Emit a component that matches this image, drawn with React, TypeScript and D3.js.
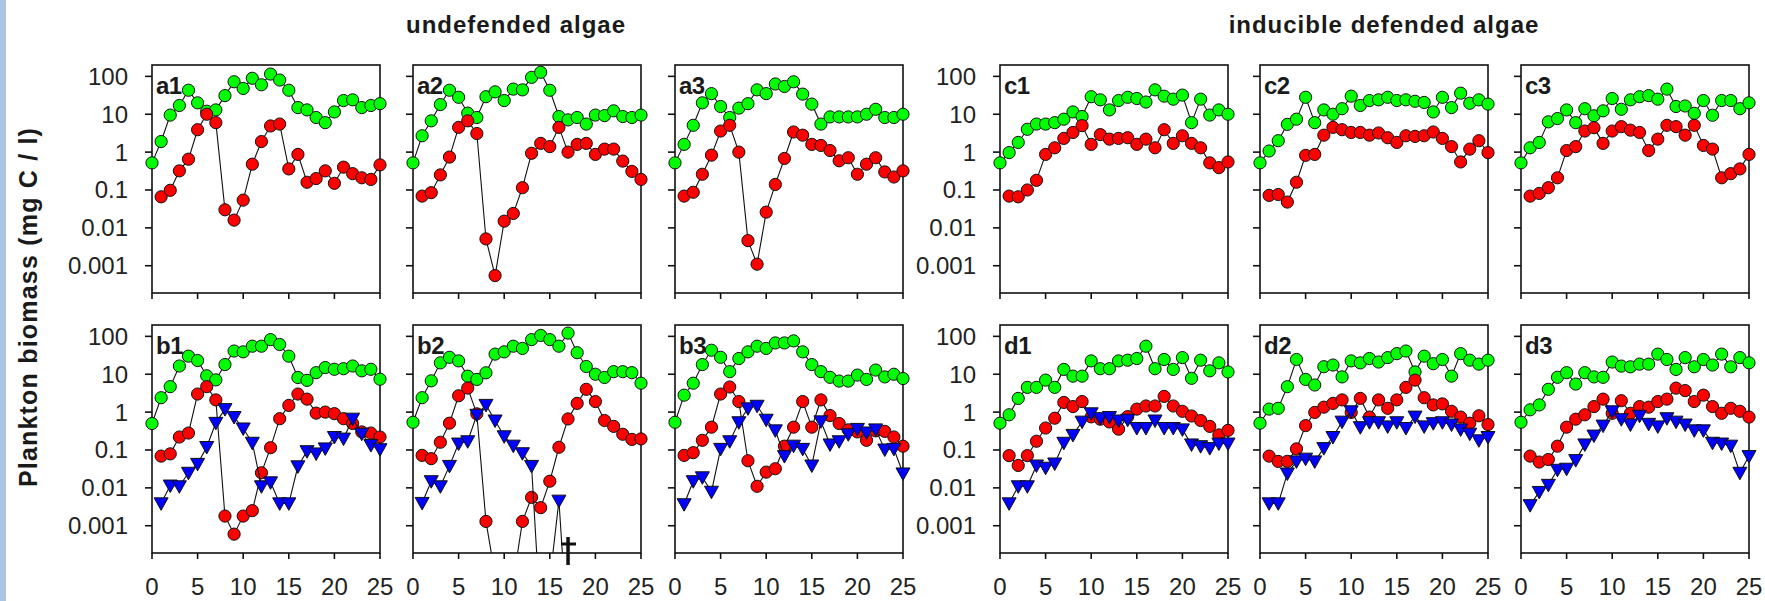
import React from "react";
import * as d3 from "d3";

// ---------- data ----------
const DAYS = [0, 1, 2, 3, 4, 5, 6, 7, 8, 9, 10, 11, 12, 13, 14, 15, 16, 17, 18, 19, 20, 21, 22, 23, 24, 25];
const Y_TICKS = [100, 10, 1, 0.1, 0.01, 0.001];
const Y_TICK_LABELS = ["100", "10", "1", "0.1", "0.01", "0.001"];
const X_TICKS = [0, 5, 10, 15, 20, 25];
const TITLES = ["undefended algae", "inducible defended algae"];
const Y_LABEL = "Plankton biomass (mg C / l)";

type V = number | null;

// a: undefended algae, no predator
const a1Green: V[] = [0.52, 1.9, 9.5, 17, 43, 20, 12, 13, 31, 72, 48, 89, 60, 115, 80, 43, 15, 13, 8.2, 6.0, 11.5, 23, 24, 15, 17, 19];
const a1Red: V[] = [null, 0.066, 0.098, 0.32, 0.65, 3.9, 10, 6.0, 0.03, 0.016, 0.054, 0.48, 1.9, 4.9, 5.5, 0.36, 0.87, 0.16, 0.2, 0.32, 0.15, 0.4, 0.27, 0.21, 0.19, 0.46];
const a2Green: V[] = [0.52, 2.7, 6.7, 18, 43, 28, 10.7, 8.2, 29, 39, 23, 46, 44, 94, 128, 43, 8.7, 7.1, 8.2, 5.5, 9.5, 9.2, 12.3, 8.7, 8.2, 9.5];
const a2Red: V[] = [null, 0.069, 0.085, 0.25, 0.74, 4.5, 6.7, 3.1, 0.0051, 0.00055, 0.015, 0.024, 0.115, 0.93, 1.7, 1.4, 4.5, 1.0, 1.6, 1.7, 0.87, 1.2, 1.2, 0.58, 0.31, 0.19];
const a3Green: V[] = [0.52, 1.6, 5.1, 20, 35, 16, 8.2, 14.5, 19, 44, 35, 63, 54, 72, 34, 18.5, 5.5, 8.5, 8.5, 8.5, 8.5, 10, 13.5, 8.2, 8.2, 10];
const a3Red: V[] = [null, 0.069, 0.087, 0.26, 0.83, 3.6, 5.1, 1.0, 0.0046, 0.0011, 0.026, 0.14, 0.68, 3.4, 2.8, 1.6, 1.5, 1.1, 0.59, 0.71, 0.26, 0.48, 0.71, 0.3, 0.22, 0.32];

// b: undefended algae with predator
const b1Green: V[] = [0.5, 2.4, 4.7, 16.5, 30, 23, 9.1, 7.1, 18, 41, 39, 55, 55, 82, 61, 30, 8.2, 6.9, 11, 15, 13.5, 14, 16.5, 12.3, 13.5, 7.4];
const b1Red: V[] = [null, 0.069, 0.079, 0.22, 0.28, 3.0, 4.7, 2.1, 0.0018, 0.0006, 0.0018, 0.0025, 0.025, 0.115, 0.67, 1.5, 3.0, 2.2, 0.94, 1.0, 0.91, 0.67, 0.5, 0.3, 0.28, 0.22];
const b1Blue: V[] = [null, 0.0039, 0.0115, 0.011, 0.025, 0.043, 0.12, 0.52, 1.2, 0.74, 0.37, 0.155, 0.011, 0.014, 0.0039, 0.0039, 0.037, 0.093, 0.081, 0.11, 0.22, 0.2, 0.67, 0.27, 0.135, 0.105];
const b2Green: V[] = [0.54, 2.4, 6.7, 20, 28, 22.5, 8.9, 7.3, 10.9, 34, 39, 55, 48, 82, 106, 82, 55, 122, 37, 16, 10, 8.2, 11.7, 11.7, 11, 5.8];
const b2Red: V[] = [null, 0.072, 0.059, 0.16, 0.51, 2.7, 4.3, 0.9, 0.0013, 0.00005, 0.00001, 0.000035, 0.0013, 0.0056, 0.003, 0.015, 0.118, 0.66, 1.7, 4.0, 1.9, 0.6, 0.42, 0.26, 0.19, 0.196];
const b2Blue: V[] = [null, 0.004, 0.015, 0.011, 0.038, 0.148, 0.17, 0.85, 1.55, 0.6, 0.23, 0.13, 0.082, 0.038, 0.000003, 0.000036, 0.0046, 0.000001, null, null, null, null, null, null, null, null];
const b3Green: V[] = [0.54, 2.8, 5.8, 18, 43, 28, 11.7, 26, 39, 55, 48, 67, 67, 76, 39, 18, 11.7, 8.3, 6.6, 6.6, 9.5, 7.3, 12.9, 8.5, 10, 7.7];
const b3Red: V[] = [null, 0.072, 0.085, 0.18, 0.4, 3.0, 4.6, 1.9, 0.052, 0.011, 0.026, 0.032, 0.126, 0.4, 1.9, 0.4, 2.1, 0.81, 0.5, 0.34, 0.3, 0.18, 0.32, 0.31, 0.22, 0.126];
const b3Blue: V[] = [null, 0.0037, 0.015, 0.019, 0.0079, 0.107, 0.17, 0.54, 1.26, 1.47, 0.63, 0.33, 0.069, 0.13, 0.107, 0.039, 0.57, 0.14, 0.17, 0.26, 0.36, 0.29, 0.35, 0.103, 0.107, 0.024];

// c: inducible defended algae, no predator
const c1Green: V[] = [0.52, 0.97, 1.8, 4.0, 5.5, 5.5, 6.0, 7.4, 11.5, 8.7, 29, 24, 13, 23, 28, 26, 21, 44, 30, 25, 32, 6.0, 25, 9.5, 13, 10];
const c1Red: V[] = [null, 0.069, 0.066, 0.1, 0.18, 0.87, 1.3, 2.3, 3.3, 5.0, 1.6, 2.9, 2.2, 2.3, 2.4, 1.6, 2.2, 1.3, 3.9, 1.7, 2.7, 1.7, 1.3, 0.52, 0.39, 0.55];
const c2Green: V[] = [0.52, 1.07, 2.0, 5.4, 7.4, 28, 6.0, 13, 10, 14, 30, 17, 23, 24, 28, 23, 24, 22, 20.5, 11.5, 28, 15, 36, 19.5, 24, 18.5];
const c2Red: V[] = [null, 0.072, 0.076, 0.048, 0.16, 0.82, 0.87, 2.8, 4.5, 3.9, 3.3, 3.3, 2.8, 3.2, 2.4, 1.8, 2.7, 2.6, 2.7, 3.4, 2.3, 1.4, 0.55, 1.2, 2.0, 0.97];
const c3Green: V[] = [0.52, 1.3, 1.8, 6.3, 7.7, 13, 6.0, 14, 9.1, 12.3, 26, 13.5, 24, 29, 31, 25, 46, 16, 16.5, 10.6, 23, 9.4, 23, 23, 14, 20];
const c3Red: V[] = [null, 0.069, 0.081, 0.115, 0.21, 1.1, 1.4, 3.6, 4.4, 1.7, 3.6, 4.7, 3.8, 3.3, 1.1, 2.2, 5.1, 4.7, 2.8, 5.1, 1.5, 1.2, 0.21, 0.27, 0.36, 0.87];

// d: inducible defended algae with predator
const d1Green: V[] = [0.51, 0.85, 2.3, 4.5, 4.5, 7.0, 4.5, 13.4, 8.9, 8.9, 22.5, 14, 14, 22.5, 23.5, 26, 55, 14, 24.5, 13.4, 27.5, 7.8, 23.5, 12.3, 20, 11.5];
const d1Red: V[] = [null, 0.071, 0.039, 0.071, 0.17, 0.38, 0.69, 1.8, 1.4, 1.9, 0.75, 0.65, 0.55, 0.355, 0.76, 1.2, 1.45, 1.45, 2.6, 1.45, 1.05, 0.79, 0.6, 0.42, 0.25, 0.33];
const d1Blue: V[] = [null, 0.0039, 0.011, 0.011, 0.039, 0.034, 0.044, 0.155, 0.25, 0.56, 0.93, 0.69, 0.74, 0.6, 0.63, 0.38, 0.38, 0.6, 0.38, 0.38, 0.35, 0.14, 0.126, 0.112, 0.148, 0.148];
const d2Green: V[] = [0.51, 1.2, 1.26, 4.7, 24.5, 7.3, 5.2, 15.8, 17.5, 8.5, 22.5, 20, 26, 21, 27.5, 35, 41, 11.5, 30, 19, 24.5, 8.9, 35, 23.5, 18.5, 23.5];
const d2Red: V[] = [null, 0.069, 0.05, 0.05, 0.107, 0.44, 0.98, 1.35, 1.7, 2.1, 0.98, 2.3, 0.74, 2.1, 1.26, 2.1, 4.5, 7.0, 2.4, 1.55, 1.65, 1.05, 0.74, 0.51, 0.8, 0.47];
const d2Blue: V[] = [null, 0.0039, 0.0039, 0.024, 0.05, 0.059, 0.05, 0.112, 0.22, 0.56, 1.05, 0.4, 0.54, 0.54, 0.42, 0.54, 0.38, 0.76, 0.42, 0.51, 0.54, 0.47, 0.35, 0.27, 0.18, 0.22];
const d3Green: V[] = [0.54, 1.15, 1.55, 4.0, 8.3, 11, 5.5, 11, 8.5, 8.3, 21, 16.4, 15.7, 18.5, 18.5, 34, 24.5, 13.4, 27.5, 15.7, 24.5, 17.5, 34, 15.7, 27.5, 20];
const d3Red: V[] = [null, 0.069, 0.048, 0.056, 0.126, 0.4, 0.65, 0.85, 1.4, 2.2, 0.93, 2.0, 0.93, 1.4, 1.35, 1.9, 2.2, 4.3, 3.7, 1.9, 2.8, 1.4, 0.93, 1.26, 1.05, 0.74];
const d3Blue: V[] = [null, 0.0035, 0.0078, 0.012, 0.03, 0.032, 0.054, 0.14, 0.24, 0.44, 1.05, 0.65, 0.47, 0.8, 0.49, 0.42, 0.69, 0.56, 0.47, 0.33, 0.33, 0.155, 0.148, 0.13, 0.025, 0.069];

const EXTINCTION_DAY = 17; // dagger in panel b2

// ---------- layout ----------
const W = 1765;
const H = 601;
const PANEL_W = 228;
const PANEL_H = 228;
const COL_LEFT = [152, 413, 675, 1000, 1260, 1521];
const ROW_TOP = [65, 325];
const FONT = "'Liberation Sans', Arial, Helvetica, sans-serif";
const GREEN = "#00ff00";
const RED = "#ff0000";
const BLUE = "#0000ff";

type Series = { values: V[]; color: string; shape: "circle" | "tri" };
type PanelDef = { label: string; col: number; row: number; series: Series[] };

const g = (v: V[]): Series => ({ values: v, color: GREEN, shape: "circle" });
const r = (v: V[]): Series => ({ values: v, color: RED, shape: "circle" });
const b = (v: V[]): Series => ({ values: v, color: BLUE, shape: "tri" });

const PANELS: PanelDef[] = [
  { label: "a1", col: 0, row: 0, series: [g(a1Green), r(a1Red)] },
  { label: "a2", col: 1, row: 0, series: [g(a2Green), r(a2Red)] },
  { label: "a3", col: 2, row: 0, series: [g(a3Green), r(a3Red)] },
  { label: "c1", col: 3, row: 0, series: [g(c1Green), r(c1Red)] },
  { label: "c2", col: 4, row: 0, series: [g(c2Green), r(c2Red)] },
  { label: "c3", col: 5, row: 0, series: [g(c3Green), r(c3Red)] },
  { label: "b1", col: 0, row: 1, series: [g(b1Green), r(b1Red), b(b1Blue)] },
  { label: "b2", col: 1, row: 1, series: [g(b2Green), r(b2Red), b(b2Blue)] },
  { label: "b3", col: 2, row: 1, series: [g(b3Green), r(b3Red), b(b3Blue)] },
  { label: "d1", col: 3, row: 1, series: [g(d1Green), r(d1Red), b(d1Blue)] },
  { label: "d2", col: 4, row: 1, series: [g(d2Green), r(d2Red), b(d2Blue)] },
  { label: "d3", col: 5, row: 1, series: [g(d3Green), r(d3Red), b(d3Blue)] },
];

function Panel({ p }: { p: PanelDef }) {
  const left = COL_LEFT[p.col];
  const top = ROW_TOP[p.row];
  const x = d3.scaleLinear().domain([0, 25]).range([left, left + PANEL_W]);
  const y = d3.scaleLog().domain([Math.pow(10, -3.72), Math.pow(10, 2.3)]).range([top + PANEL_H, top]);
  const showY = p.col === 0 || p.col === 3;
  const showX = p.row === 1;
  const clipId = `clip-${p.label}`;
  const line = d3
    .line<[number, V]>()
    .defined((d) => d[1] != null)
    .x((d) => x(d[0]))
    .y((d) => y(d[1] as number));

  return (
    <g>
      <defs>
        <clipPath id={clipId}>
          <rect x={left - 12} y={top - 12} width={PANEL_W + 24} height={PANEL_H + 12} />
        </clipPath>
      </defs>
      <rect x={left} y={top} width={PANEL_W} height={PANEL_H} fill="none" stroke="#111" strokeWidth={1.6} />
      {Y_TICKS.map((t, i) => (
        <g key={`yt${i}`}>
          <line x1={left - 7} x2={left} y1={y(t)} y2={y(t)} stroke="#111" strokeWidth={1.6} />
          {showY && (
            <text x={left - 24} y={y(t)} textAnchor="end" dominantBaseline="central" fontFamily={FONT} fontSize={24} fill="#222">
              {Y_TICK_LABELS[i]}
            </text>
          )}
        </g>
      ))}
      {X_TICKS.map((t) => (
        <g key={`xt${t}`}>
          <line x1={x(t)} x2={x(t)} y1={top + PANEL_H} y2={top + PANEL_H + 6} stroke="#111" strokeWidth={1.6} />
          {showX && (
            <text x={x(t)} y={top + PANEL_H + 33} textAnchor="middle" dominantBaseline="central" fontFamily={FONT} fontSize={24} fill="#222">
              {t}
            </text>
          )}
        </g>
      ))}
      <g clipPath={`url(#${clipId})`}>
        {p.series.map((s, si) => {
          const pts: [number, V][] = DAYS.map((d, i) => [d, s.values[i]]);
          return (
            <g key={`s${si}`}>
              <path d={line(pts) || ""} fill="none" stroke="#111" strokeWidth={1.1} />
              {pts
                .filter((d) => d[1] != null)
                .map((d, i) => {
                  const cx = x(d[0]);
                  const cy = y(d[1] as number);
                  if (s.shape === "circle") {
                    return <circle key={i} cx={cx} cy={cy} r={6.1} fill={s.color} stroke="#111" strokeWidth={1} />;
                  }
                  const pth = `M${cx - 7},${cy - 5.5}L${cx + 7},${cy - 5.5}L${cx},${cy + 7}Z`;
                  return <path key={i} d={pth} fill={s.color} stroke="#111" strokeWidth={1} />;
                })}
            </g>
          );
        })}
      </g>
      <text x={left + 4} y={top + 29} fontFamily={FONT} fontSize={24} fontWeight="bold" letterSpacing={-0.5} fill="#1a1a1a">
        {p.label}
      </text>
      {p.label === "b2" && (
        <g stroke="#111" fill="none">
          <line x1={x(EXTINCTION_DAY)} x2={x(EXTINCTION_DAY)} y1={top + PANEL_H - 16} y2={top + PANEL_H + 12} strokeWidth={3.5} />
          <line x1={x(EXTINCTION_DAY) - 7} x2={x(EXTINCTION_DAY) + 8} y1={top + PANEL_H - 9} y2={top + PANEL_H - 9} strokeWidth={3} />
        </g>
      )}
    </g>
  );
}

export default function App() {
  return (
    <div style={{ position: "absolute", left: 0, top: 0 }}>
      <svg width={W} height={H} style={{ display: "block", background: "#fff" }}>
        <rect x={0} y={0} width={W} height={H} fill="#fff" />
        <rect x={0} y={0} width={6} height={H} fill="#a9c5e2" />
        <text x={516} y={33} textAnchor="middle" fontFamily={FONT} fontSize={24} fontWeight="bold" letterSpacing={1} fill="#1a1a1a">
          {TITLES[0]}
        </text>
        <text x={1384} y={33} textAnchor="middle" fontFamily={FONT} fontSize={24} fontWeight="bold" letterSpacing={1} fill="#1a1a1a">
          {TITLES[1]}
        </text>
        <text
          transform={`translate(37, 307) rotate(-90)`}
          textAnchor="middle"
          fontFamily={FONT}
          fontSize={25}
          fontWeight="bold"
          letterSpacing={1.2}
          fill="#1a1a1a"
        >
          {Y_LABEL}
        </text>
        {PANELS.map((p) => (
          <Panel key={p.label} p={p} />
        ))}
      </svg>
    </div>
  );
}
